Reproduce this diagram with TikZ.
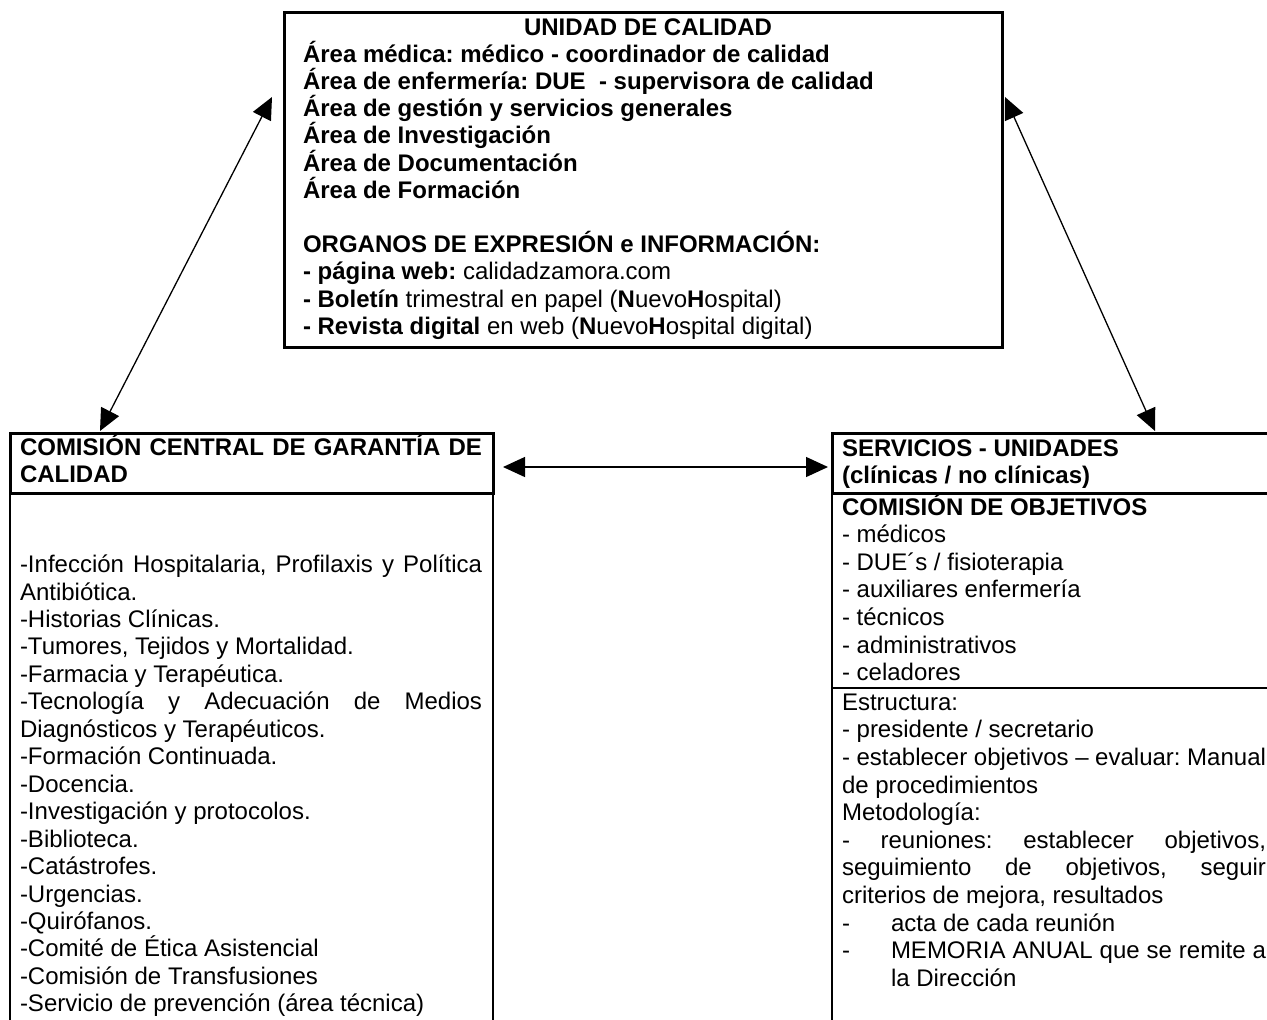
\documentclass[tikz,border=0pt]{standalone}
\usepackage{fontspec}
\setmainfont{Liberation Sans}
\usetikzlibrary{arrows.meta}
\newcommand\mystrut{\rule{0pt}{12pt}}
\frenchspacing
\begin{document}
\begin{tikzpicture}[x=0.5pt,y=-0.5pt,
  frame/.style={draw, line width=1.5pt, inner sep=0pt, outer sep=0pt},
  thinln/.style={line width=0.75pt},
  conn/.style={line width=0.65pt, {Triangle[length=11pt,width=10pt]}-{Triangle[length=11pt,width=10pt]}},
  txt/.style={inner sep=0pt, outer sep=0pt, align=left, anchor=north west},
]
\useasboundingbox (0,0) rectangle (1267,1019);
\clip (0,0) rectangle (1267,1019);

% boxes
\node[frame, minimum width=359pt, minimum height=167.5pt] (unidad) at (643,179.5) {};
\node[frame, minimum width=241.5pt, minimum height=30pt] (ccgch) at (251.5,463) {};
\node[frame, minimum width=240pt, minimum height=30pt] (servh) at (1072,463) {};
\draw[thinln] (ccgch.south west) -- ++(0,540);
\draw[thinln] (ccgch.south east) -- ++(0,540);
\draw[thinln] (servh.south west) -- ++(0,540);
\coordinate (sep) at (832,688);
\draw[thinln] (sep) -- ++(480,0);

% top box text
\node[inner sep=0pt, anchor=base, font=\fontsize{12pt}{13.6pt}\selectfont\bfseries] (title) at (648,35) {UNIDAD DE CALIDAD};
\node[txt, font=\fontsize{12pt}{13.6pt}\selectfont\bfseries] (topbody) at (303,38.3) {%
\mystrut Área médica: médico - coordinador de calidad\\
Área de enfermería: DUE\ \ - supervisora de calidad\\
Área de gestión y servicios generales\\
Área de Investigación\\
Área de Documentación\\
Área de Formación\\
\mbox{}\\
ORGANOS DE EXPRESIÓN e INFORMACIÓN:\\
- página web: {\mdseries calidadzamora.com}\\
- Boletín {\mdseries trimestral en papel (}N{\mdseries uevo}H{\mdseries ospital)}\\
- Revista digital {\mdseries en web (}N{\mdseries uevo}H{\mdseries ospital digital)}};

% left box text
\node[txt, font=\fontsize{12pt}{13.7pt}\selectfont\bfseries] (ccgctitle) at (20,431) {%
\mystrut\makebox[231pt][s]{COMISIÓN CENTRAL DE GARANTÍA DE}\\
CALIDAD};
\node[txt, font=\fontsize{12pt}{13.725pt}\selectfont] (ccgcbody) at (20,548.6) {%
\mystrut\makebox[231pt][s]{-Infección Hospitalaria, Profilaxis y Política}\\
Antibiótica.\\
-Historias Clínicas.\\
-Tumores, Tejidos y Mortalidad.\\
-Farmacia y Terapéutica.\\
\makebox[231pt][s]{-Tecnología y Adecuación de Medios}\\
Diagnósticos y Terapéuticos.\\
-Formación Continuada.\\
-Docencia.\\
-Investigación y protocolos.\\
-Biblioteca.\\
-Catástrofes.\\
-Urgencias.\\
-Quirófanos.\\
-Comité de Ética Asistencial\\
-Comisión de Transfusiones\\
-Servicio de prevención (área técnica)};

% right box text
\node[txt, font=\fontsize{12pt}{13.75pt}\selectfont\bfseries] (servtitle) at (842,432) {%
\mystrut SERVICIOS - UNIDADES\\
(clínicas / no clínicas)};
\node[txt, font=\fontsize{12pt}{13.8pt}\selectfont] (objetivos) at (842,491) {%
\mystrut\textbf{COMISIÓN DE OBJETIVOS}\\
- médicos\\
- DUE´s / fisioterapia\\
- auxiliares enfermería\\
- técnicos\\
- administrativos\\
- celadores};
\node[txt, font=\fontsize{12pt}{13.83pt}\selectfont] (estructura) at (842,686) {%
\mystrut Estructura:\\
- presidente / secretario\\
\makebox[212pt][s]{- establecer objetivos – evaluar: Manual}\\
de procedimientos\\
Metodología:\\
\makebox[212pt][s]{- reuniones: establecer objetivos,}\\
\makebox[212pt][s]{seguimiento de objetivos, seguir}\\
criterios de mejora, resultados\\
\makebox[24.5pt][l]{-}acta de cada reunión\\
\makebox[24.5pt][l]{-}\makebox[187.5pt][s]{MEMORIA ANUAL que se remite a}\\
\hspace*{24.5pt}la Dirección};

% connectors
\coordinate (a1u) at (272,97);
\coordinate (a1d) at (100,431);
\coordinate (a2u) at (1005,97);
\coordinate (a2d) at (1155,431);
\draw[conn] (a1u) -- (a1d);
\draw[conn] (a2u) -- (a2d);
\draw[conn] ([shift={(10,4)}]ccgch.east) -- ([shift={(-4,4)}]servh.west);
\end{tikzpicture}
\end{document}
